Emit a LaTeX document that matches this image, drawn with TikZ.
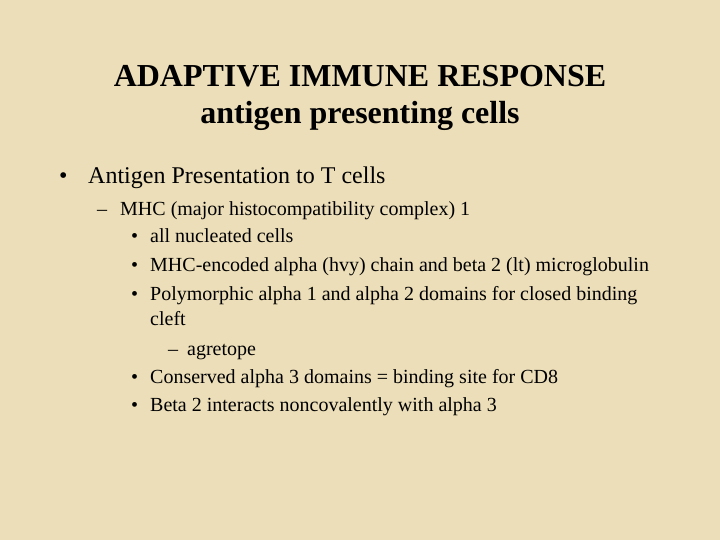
\documentclass[tikz,border=0pt]{standalone}
\usepackage{fontspec}
\setmainfont{Liberation Serif}
\begin{document}
\begin{tikzpicture}[x=1pt,y=-1pt,
  t/.style={anchor=base west,inner sep=0pt,text=black},
  ttl/.style={anchor=base,inner sep=0pt,font=\bfseries\fontsize{32}{34}\selectfont},
  l1/.style={t,font=\fontsize{24}{26}\selectfont},
  l2/.style={t,font=\fontsize{20}{22}\selectfont}]
\fill[fill={rgb,255:red,236;green,222;blue,184}] (0,0) rectangle (720,540);
\useasboundingbox (0,0) rectangle (720,540);
\node[ttl] (t1) at (360,87) {ADAPTIVE IMMUNE RESPONSE};
\node[ttl] (t2) at (360,124) {antigen presenting cells};
\node[l1] (b1) at (59,184) {•};
\node[l1] (b1t) at (88,184) {Antigen Presentation to T cells};
\node[l2] (d1) at (97,215) {–};
\node[l2] (d1t) at (120,215) {MHC (major histocompatibility complex) 1};
\node[l2] (s1) at (131,243) {•};
\node[l2] (s1t) at (150,243) {all nucleated cells};
\node[l2] (s2) at (131,271) {•};
\node[l2] (s2t) at (150,271) {MHC-encoded alpha (hvy) chain and beta 2 (lt) microglobulin};
\node[l2] (s3) at (131,300) {•};
\node[l2] (s3t) at (150,300) {Polymorphic alpha 1 and alpha 2 domains for closed binding};
\node[l2] (s3u) at (150,325) {cleft};
\node[l2] (d2) at (168,355) {–};
\node[l2] (d2t) at (187,355) {agretope};
\node[l2] (s4) at (131,383) {•};
\node[l2] (s4t) at (150,383) {Conserved alpha 3 domains = binding site for CD8};
\node[l2] (s5) at (131,411) {•};
\node[l2] (s5t) at (150,411) {Beta 2 interacts noncovalently with alpha 3};
\end{tikzpicture}
\end{document}
